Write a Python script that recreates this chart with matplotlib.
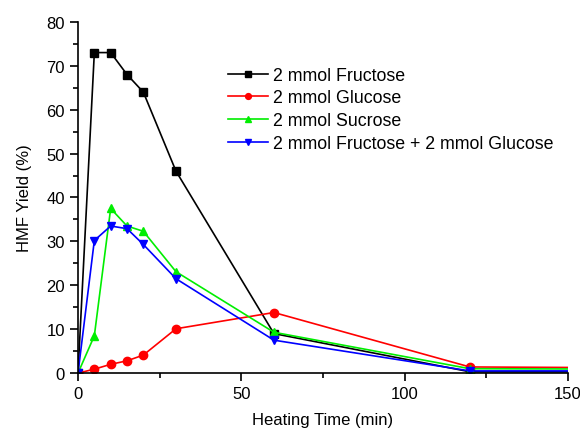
import matplotlib
matplotlib.use("Agg")
import matplotlib.pyplot as plt
from matplotlib.ticker import MultipleLocator

plt.rcParams['font.family'] = ['Liberation Sans', 'DejaVu Sans']

time = [0, 5, 10, 15, 20, 30, 60, 120, 200]
fructose = [0, 73, 73, 68, 64, 46, 9, 0.3, 0.3]
glucose = [0, 0.9, 2.0, 2.8, 4.1, 10.1, 13.8, 1.4, 1.1]
sucrose = [0, 8.5, 37.5, 33.5, 32.3, 23.1, 9.3, 1.0, 0.85]
fru_glu = [0, 30.2, 33.5, 32.9, 29.3, 21.5, 7.5, 0.5, 0.5]

labels = ["2 mmol Fructose", "2 mmol Glucose", "2 mmol Sucrose",
          "2 mmol Fructose + 2 mmol Glucose"]
series = [fructose, glucose, sucrose, fru_glu]
colors = ["#000000", "#ff0000", "#00ee00", "#0000ff"]
markers = ["s", "o", "^", "v"]

fs = 12
fig = plt.figure(figsize=(5.8, 4.31), dpi=100)
ax = fig.add_axes([0.1345, 0.132, 0.8445, 0.815])
for y, lab, c, m in zip(series, labels, colors, markers):
    ax.plot(time, y, color=c, marker=m, markersize=6, lw=1.2, label=lab,
            markeredgecolor=c, clip_on=True)

ax.set_xlim(0, 150)
ax.set_ylim(0, 80)
ax.xaxis.set_major_locator(MultipleLocator(50))
ax.xaxis.set_minor_locator(MultipleLocator(25))
ax.yaxis.set_major_locator(MultipleLocator(10))
ax.yaxis.set_minor_locator(MultipleLocator(5))
for s in ['top', 'right']:
    ax.spines[s].set_visible(False)
for s in ['left', 'bottom']:
    ax.spines[s].set_linewidth(1.2)
ax.tick_params(which='major', direction='out', length=6, width=1.2, labelsize=fs)
ax.tick_params(which='minor', direction='out', length=3.5, width=1.2)
ax.set_xlabel("Heating Time (min)", fontsize=fs, labelpad=7.5)
ax.set_ylabel("HMF Yield (%)", fontsize=fs, labelpad=10)
leg = ax.legend(loc='upper left', bbox_to_anchor=(0.306, 0.872), frameon=False,
                fontsize=12.8, handlelength=2.25, labelspacing=0.32, handletextpad=0.28,
                borderaxespad=0, borderpad=0, markerscale=0.7)
fig.savefig("out.png", dpi=100)
